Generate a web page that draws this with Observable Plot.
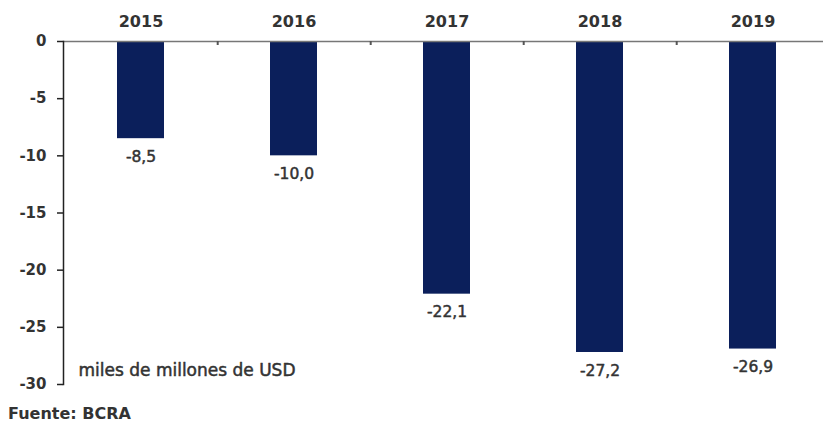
<!DOCTYPE html>
<html>
<head>
<meta charset="utf-8">
<script src="https://cdn.jsdelivr.net/npm/d3@7"></script>
<script src="https://cdn.jsdelivr.net/npm/@observablehq/plot@0.6"></script>
<style>
  body { margin: 0; background: #fff; font-family: "DejaVu Sans", sans-serif; overflow: hidden; }
  #chart svg { display: block; overflow: visible; }
  .fuente { font-size: 16px; font-weight: 700; color: #333; margin: 5px 0 0 8px; line-height: 17px; }
</style>
</head>
<body>
<div id="chart"></div>
<div class="fuente">Fuente: BCRA</div>
<script>
const years = ["2015", "2016", "2017", "2018", "2019"];
const values = [-8.5, -10.0, -22.1, -27.2, -26.9];
const yTicks = [0, -5, -10, -15, -20, -25, -30];
const unitLabel = "miles de millones de USD";

const data = years.map((y, i) => ({year: y, value: values[i]}));
const fmt = v => v.toFixed(1).replace(".", ",");

const W = 823, ML = 63, MR = -7;
const halfStep = (W - MR - ML) / years.length / 2;

const chart = Plot.plot({
  width: W,
  height: 400,
  marginLeft: ML,
  marginRight: MR,
  marginTop: 41,
  marginBottom: 16,
  style: {fontFamily: "'DejaVu Sans', sans-serif", fontSize: "15px", color: "#333", background: "#fff"},
  x: {domain: years, paddingInner: 0.69, paddingOuter: 0.345, axis: null},
  y: {domain: [-30, 0], axis: null},
  marks: [
    Plot.barY(data, {x: "year", y: "value", fill: "#0b1f5b"}),
    Plot.ruleY([0], {stroke: "#777", strokeWidth: 1.5}),
    Plot.ruleX(years.slice(0, -1), {x: d => d, y1: 0, y2: -0.35, dx: halfStep, stroke: "#555", strokeWidth: 2}),
    Plot.frame({anchor: "left", stroke: "#222", strokeWidth: 1.5}),
    Plot.axisY({ticks: yTicks, tickFormat: d => String(d), label: null, tickSize: 6, tickPadding: 11, fontWeight: 700, fontSize: 15, stroke: "#222", strokeWidth: 1.5}),
    Plot.axisX({anchor: "top", label: null, tickSize: 0, tickPadding: 15, fontWeight: 700, fontSize: 16}),
    Plot.text(data, {x: "year", y: "value", text: d => fmt(d.value), lineAnchor: "top", dy: 12, fontSize: 15.5, fill: "#333", stroke: "#333", strokeWidth: 0.5}),
    Plot.text([unitLabel], {y: -28.8, text: d => d, frameAnchor: "left", textAnchor: "start", dx: 15, fontSize: 17, fill: "#333", stroke: "#333", strokeWidth: 0.5})
  ]
});
document.getElementById("chart").appendChild(chart);
</script>
</body>
</html>
